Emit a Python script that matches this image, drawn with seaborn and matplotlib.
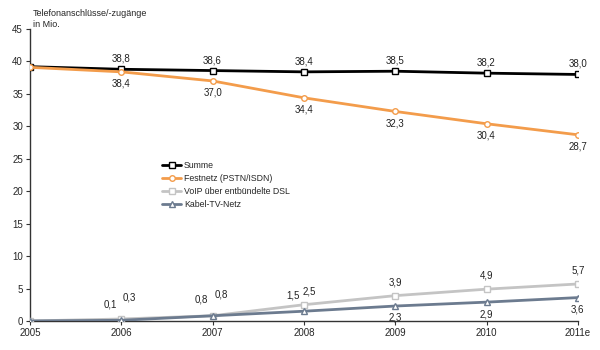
import matplotlib
matplotlib.use("Agg")
import matplotlib.pyplot as plt
import seaborn as sns
import pandas as pd

years = ["2005", "2006", "2007", "2008", "2009", "2010", "2011e"]
summe = [39.2, 38.8, 38.6, 38.4, 38.5, 38.2, 38.0]
festnetz = [39.1, 38.4, 37.0, 34.4, 32.3, 30.4, 28.7]
voip = [0.0, 0.3, 0.8, 2.5, 3.9, 4.9, 5.7]
kabel = [0.0, 0.1, 0.8, 1.5, 2.3, 2.9, 3.6]
series_names = ["Summe", "Festnetz (PSTN/ISDN)", "VoIP über entbündelte DSL", "Kabel-TV-Netz"]

sns.set_style("white")
plt.rcParams['font.family'] = ['Liberation Sans', 'DejaVu Sans']

fig = plt.figure(figsize=(6, 3.5), dpi=100)
ax = fig.add_axes([0.05, 0.083, 0.913, 0.834])

styles = [
    (summe, "#000000", "s", 4.5, 2.0),
    (festnetz, "#F39C4B", "o", 4.0, 2.0),
    (voip, "#C4C4C4", "s", 4.5, 2.0),
    (kabel, "#6C7B8F", "^", 4.5, 2.0),
]
x = list(range(len(years)))
for name, (vals, col, mk, ms, lw) in zip(series_names, styles):
    df = pd.DataFrame({"x": x, "y": vals})
    sns.lineplot(data=df, x="x", y="y", ax=ax, color=col, marker=mk,
                 markersize=ms, markerfacecolor="white", markeredgecolor=col,
                 markeredgewidth=1.0, linewidth=lw, label=name, zorder=3)

fs = 7
def lab(v):
    return f"{v:.1f}".replace(".", ",")

for i in range(1, len(years)):
    ax.annotate(lab(summe[i]), (i, summe[i]), xytext=(0, 4), textcoords="offset points",
                ha="center", va="bottom", fontsize=fs, color="#222222")
    ax.annotate(lab(festnetz[i]), (i, festnetz[i]), xytext=(0, -5), textcoords="offset points",
                ha="center", va="top", fontsize=fs, color="#222222")
for i in range(1, len(years)):
    if i <= 3:
        ax.annotate(lab(voip[i]), (i, voip[i]), xytext=(6 if i < 3 else 4, 12 if i < 3 else 6),
                    textcoords="offset points", ha="center", va="bottom", fontsize=fs, color="#222222")
        ax.annotate(lab(kabel[i]), (i, kabel[i]), xytext=(-8, 8),
                    textcoords="offset points", ha="center", va="bottom", fontsize=fs, color="#222222")
    else:
        ax.annotate(lab(voip[i]), (i, voip[i]), xytext=(0, 6), textcoords="offset points",
                    ha="center", va="bottom", fontsize=fs, color="#222222")
        ax.annotate(lab(kabel[i]), (i, kabel[i]), xytext=(0, -5), textcoords="offset points",
                    ha="center", va="top", fontsize=fs, color="#222222")

ax.set_xlim(0, 6)
ax.set_ylim(0, 45)
ax.set_yticks(range(0, 46, 5))
ax.set_xticks(x)
ax.set_xticklabels(years)
ax.set_xlabel("")
ax.set_ylabel("")
ax.tick_params(axis="both", labelsize=fs, length=3, width=0.8, color="#333333", direction="out",
               left=True, bottom=True, pad=2)
for s in ["top", "right"]:
    ax.spines[s].set_visible(False)
for s in ["left", "bottom"]:
    ax.spines[s].set_color("#333333")
    ax.spines[s].set_linewidth(1.0)

fig.text(0.055, 0.975, "Telefonanschlüsse/-zugänge\nin Mio.", fontsize=6.5, ha="left", va="top",
         linespacing=1.3)

leg = ax.legend(loc="upper left", bbox_to_anchor=(0.235, 0.56), frameon=False, fontsize=6.3,
                handlelength=2.2, handletextpad=0.3, labelspacing=0.45, borderaxespad=0)

fig.savefig("out.png", dpi=100)
